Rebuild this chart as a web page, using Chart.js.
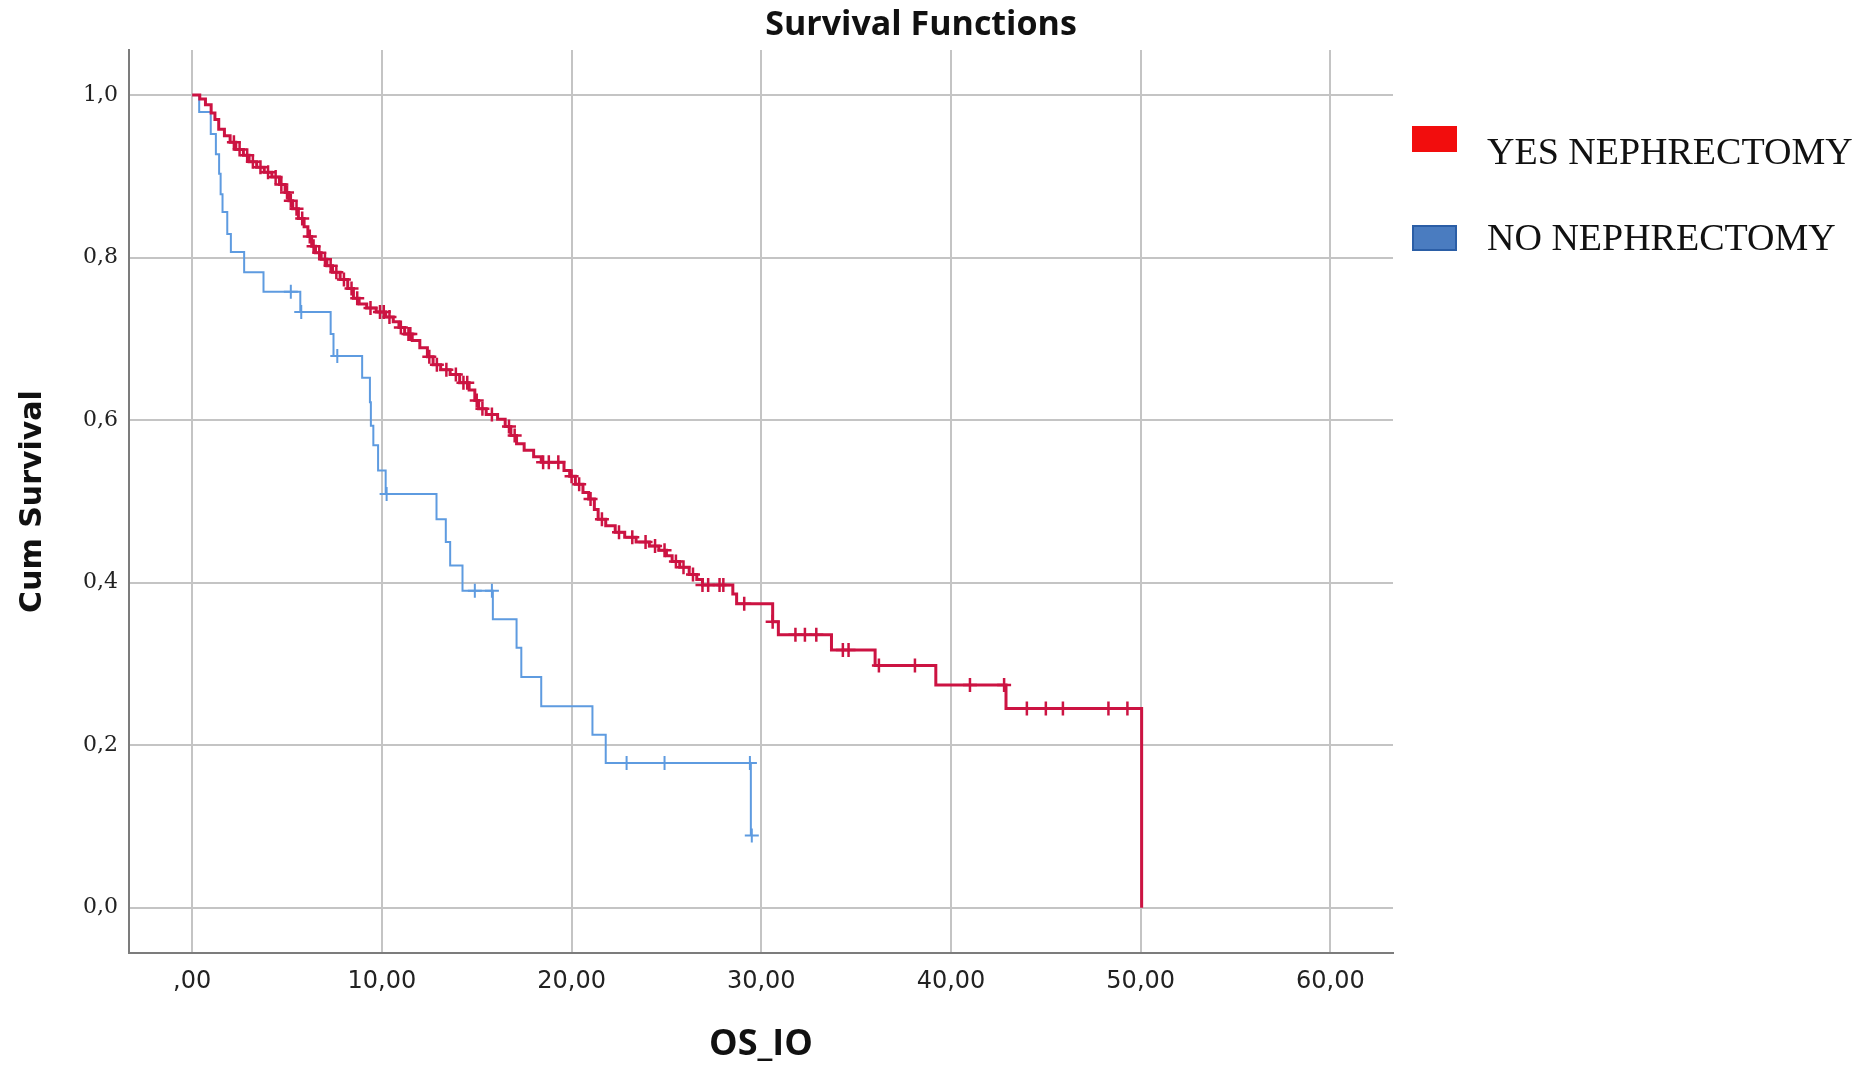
<!DOCTYPE html>
<html>
<head>
<meta charset="utf-8">
<title>Survival Functions</title>
<script src="https://cdn.jsdelivr.net/npm/chart.js@4.4.1/dist/chart.umd.min.js"></script>
<style>
  html, body { margin: 0; padding: 0; background: #fff; }
  #wrap { position: relative; width: 1860px; height: 1073px; }
  #chart { position: absolute; left: 0; top: 0; }
  .title {
    position: absolute; left: 921px; top: 5px; transform: translateX(-50%);
    font: 700 34px/34px "Open Sans", sans-serif; color: #111; white-space: nowrap;
  }
  .swatch { position: absolute; left: 1412px; width: 45px; height: 26px; box-sizing: border-box; }
  .legend-text {
    position: absolute; left: 1487px;
    font: 38px/38px "Liberation Serif", "Times New Roman", serif; color: #111; white-space: nowrap;
  }
</style>
</head>
<body>
<div id="wrap">
  <canvas id="chart" width="1860" height="1073"></canvas>
  <div class="title">Survival Functions</div>
  <div class="swatch" style="top:126px;background:#f20d0d;"></div>
  <div class="legend-text" style="top:132px;">YES NEPHRECTOMY</div>
  <div class="swatch" style="top:225px;background:#4a7cc0;border:2px solid #2b5ea6;"></div>
  <div class="legend-text" style="top:218px;">NO NEPHRECTOMY</div>
</div>
<script>
// Kaplan-Meier steps (months, cumulative survival)
const yesTime = [
  0.4, 0.7, 1.0, 1.2, 1.4, 1.7, 2.0, 2.3, 2.7, 3.0,
  3.4, 3.8, 4.2, 4.6, 4.9, 5.1, 5.3, 5.6, 5.9, 6.1,
  6.3, 6.5, 6.8, 7.1, 7.4, 7.8, 8.2, 8.5, 8.8, 9.2,
  9.7, 10.2, 10.6, 10.9, 11.2, 11.6, 12.0, 12.4, 12.7, 13.1,
  13.6, 14.1, 14.6, 14.9, 15.1, 15.5, 16.1, 16.5, 16.8, 17.1,
  17.5, 18.0, 18.4, 19.6, 19.9, 20.2, 20.6, 20.9, 21.2, 21.4,
  21.8, 22.3, 22.8, 23.4, 24.1, 24.6, 25.0, 25.3, 25.7, 26.2,
  26.6, 26.9, 28.5, 28.7, 30.6, 30.9, 33.7, 36.0, 39.2, 42.9,
  50.05
];
const yesSurv = [
  0.995, 0.988, 0.978, 0.970, 0.958, 0.950, 0.942, 0.933, 0.926, 0.918,
  0.911, 0.905, 0.899, 0.890, 0.880, 0.870, 0.860, 0.848, 0.838, 0.826,
  0.814, 0.806, 0.798, 0.790, 0.782, 0.773, 0.762, 0.750, 0.743, 0.738,
  0.733, 0.727, 0.721, 0.714, 0.706, 0.698, 0.689, 0.678, 0.668, 0.662,
  0.656, 0.646, 0.637, 0.624, 0.614, 0.607, 0.601, 0.592, 0.581, 0.571,
  0.563, 0.555, 0.548, 0.538, 0.531, 0.521, 0.511, 0.503, 0.490, 0.478,
  0.470, 0.462, 0.456, 0.450, 0.445, 0.440, 0.433, 0.426, 0.419, 0.410,
  0.404, 0.397, 0.386, 0.374, 0.352, 0.336, 0.317, 0.298, 0.274, 0.245,
  0
];
const yesCensored = [
  2.2, 2.5, 2.9, 3.2, 3.6, 4.0, 4.4, 4.7, 5.0, 5.2, 5.5, 5.8, 6.2, 6.4, 6.7,
  7.0, 7.3, 7.6, 8.0, 8.4, 8.7, 9.4, 9.9, 10.1, 10.4, 11.0, 11.4, 11.5, 12.5,
  12.9, 13.4, 13.9, 14.3, 14.5, 15.0, 15.3, 15.8, 16.7, 17.0, 18.5, 18.8, 19.3,
  20.0, 20.4, 21.0, 21.6, 22.5, 23.2, 23.9, 24.4, 24.9, 25.5, 25.9, 26.4, 26.9,
  27.2, 27.8, 28.0, 29.1, 30.6, 31.8, 32.3, 32.9, 34.3, 34.6, 36.2, 38.1, 41.0,
  42.8, 44.0, 45.0, 45.9, 48.3, 49.3
];

const noTime = [
  0.37, 0.98, 1.25, 1.42, 1.5, 1.6, 1.85, 2.04, 2.74, 3.76,
  5.7, 7.3, 7.45, 8.96, 9.37, 9.42, 9.55, 9.8, 10.2, 12.88,
  13.37, 13.6, 14.25, 15.85, 17.1, 17.35, 18.4, 21.1, 21.8, 29.45
];
const noSurv = [
  0.979, 0.952, 0.927, 0.903, 0.878, 0.856, 0.829, 0.807, 0.782, 0.758,
  0.733, 0.706, 0.679, 0.652, 0.622, 0.593, 0.569, 0.538, 0.509, 0.478,
  0.450, 0.421, 0.390, 0.355, 0.320, 0.284, 0.248, 0.213, 0.178, 0.089
];
const noCensored = [5.2, 5.75, 7.65, 10.25, 14.9, 15.8, 22.9, 24.9, 29.4, 29.5];

const xTicks = [0, 10, 20, 30, 40, 50, 60];
const xTickLabels = [',00', '10,00', '20,00', '30,00', '40,00', '50,00', '60,00'];
const yTicks = [0, 0.2, 0.4, 0.6, 0.8, 1.0];
const yTickLabels = ['0,0', '0,2', '0,4', '0,6', '0,8', '1,0'];

const RED = '#cc1342';
const BLUE = '#5e9be0';

function stepPoints(times, surv) {
  const pts = [{ x: 0, y: 1 }];
  times.forEach((t, i) => pts.push({ x: t, y: surv[i] }));
  return pts;
}

// survival value at time t from the step function
function survAt(times, surv, t) {
  let s = 1;
  for (let i = 0; i < times.length; i++) {
    if (times[i] <= t) s = surv[i];
  }
  return s;
}

function censorPoints(cens, times, surv) {
  return cens.map(t => ({ x: t, y: survAt(times, surv, t) }));
}

const ctx = document.getElementById('chart').getContext('2d');
new Chart(ctx, {
  type: 'line',
  data: {
    datasets: [
      {
        label: 'YES NEPHRECTOMY',
        data: stepPoints(yesTime, yesSurv),
        stepped: true,
        borderColor: RED,
        borderWidth: 3,
        pointRadius: 0,
        fill: false
      },
      {
        label: 'YES censored',
        data: censorPoints(yesCensored, yesTime, yesSurv),
        showLine: false,
        pointStyle: 'cross',
        pointRadius: 7,
        pointBorderWidth: 2.5,
        borderColor: RED,
        backgroundColor: RED
      },
      {
        label: 'NO NEPHRECTOMY',
        data: stepPoints(noTime, noSurv),
        stepped: true,
        borderColor: BLUE,
        borderWidth: 2,
        pointRadius: 0,
        fill: false
      },
      {
        label: 'NO censored',
        data: censorPoints(noCensored, noTime, noSurv),
        showLine: false,
        pointStyle: 'cross',
        pointRadius: 7,
        pointBorderWidth: 2,
        borderColor: BLUE,
        backgroundColor: BLUE
      }
    ]
  },
  options: {
    responsive: false,
    animation: false,
    layout: { padding: { left: 0, top: 50, right: 467, bottom: 0 } },
    plugins: {
      legend: { display: false },
      title: { display: false },
      tooltip: { enabled: false }
    },
    scales: {
      x: {
        type: 'linear',
        min: -3.33,
        max: 63.3,
        afterFit: scale => { scale.height = 120; },
        afterBuildTicks: scale => { scale.ticks = xTicks.map(v => ({ value: v })); },
        grid: { color: '#c4c4c4', lineWidth: 2, drawTicks: false },
        border: { color: '#7c7c7c', width: 2 },
        ticks: {
          padding: 14,
          color: '#222',
          font: { family: 'DejaVu Sans', size: 24 },
          callback: (v, i) => xTickLabels[i]
        },
        title: {
          display: true,
          text: 'OS_IO',
          color: '#111',
          font: { family: 'Open Sans', size: 36, weight: 'bold' },
          padding: { top: 0, bottom: 7 }
        }
      },
      y: {
        type: 'linear',
        min: -0.0557,
        max: 1.0554,
        afterFit: scale => { scale.width = 129; },
        afterBuildTicks: scale => { scale.ticks = yTicks.map(v => ({ value: v })); },
        grid: { color: '#c4c4c4', lineWidth: 2, drawTicks: false },
        border: { color: '#7c7c7c', width: 2 },
        ticks: {
          padding: 11,
          color: '#222',
          font: { family: 'DejaVu Serif', size: 22 },
          callback: (v, i) => yTickLabels[i]
        },
        title: {
          display: true,
          text: 'Cum Survival',
          color: '#111',
          font: { family: 'DejaVu Sans', size: 30, weight: 'bold' },
          padding: { top: 15, bottom: 0 }
        }
      }
    }
  }
});
</script>
</body>
</html>
